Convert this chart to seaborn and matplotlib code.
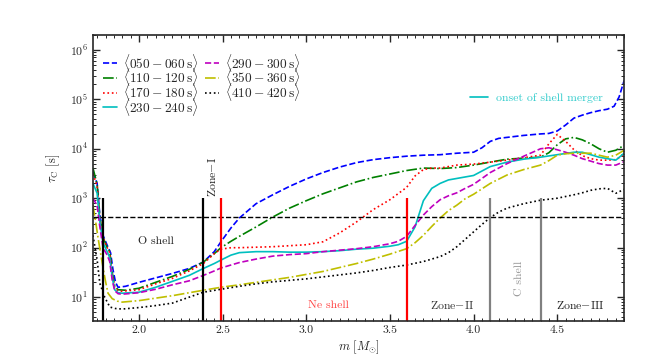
import numpy as np
import pandas as pd
import matplotlib
matplotlib.use("Agg")
import matplotlib.pyplot as plt
from matplotlib.lines import Line2D
import seaborn as sns

# ---------------- data ----------------
labels = [r'$\langle 050-060\,\mathrm{s}\rangle$', r'$\langle 110-120\,\mathrm{s}\rangle$',
          r'$\langle 170-180\,\mathrm{s}\rangle$', r'$\langle 230-240\,\mathrm{s}\rangle$',
          r'$\langle 290-300\,\mathrm{s}\rangle$', r'$\langle 350-360\,\mathrm{s}\rangle$',
          r'$\langle 410-420\,\mathrm{s}\rangle$']

m_050 = [1.725, 1.75, 1.765, 1.785, 1.81, 1.83, 1.845, 1.86, 1.875, 1.92, 2.0, 2.1, 2.2, 2.3, 2.385, 2.45, 2.49,
         2.55, 2.6, 2.7, 2.8, 2.9, 3.0, 3.1, 3.2, 3.3, 3.4, 3.5, 3.6, 3.7, 3.8, 3.9, 4.0, 4.05, 4.1, 4.15, 4.2,
         4.3, 4.4, 4.45, 4.5, 4.55, 4.6, 4.65, 4.7, 4.75, 4.8, 4.84, 4.87, 4.9]
lt_050 = [3.53, 3.30, 2.70, 2.25, 2.05, 1.90, 1.55, 1.30, 1.20, 1.22, 1.30, 1.39, 1.48, 1.58, 1.71, 1.92, 2.12,
          2.40, 2.60, 2.89, 3.07, 3.24, 3.39, 3.52, 3.63, 3.72, 3.78, 3.82, 3.85, 3.87, 3.88, 3.91, 3.93, 4.02,
          4.15, 4.21, 4.23, 4.27, 4.30, 4.31, 4.36, 4.48, 4.62, 4.68, 4.73, 4.77, 4.80, 4.86, 5.05, 5.38]

m_110 = [1.725, 1.75, 1.765, 1.785, 1.81, 1.825, 1.84, 1.855, 1.875, 1.92, 2.0, 2.1, 2.2, 2.3, 2.385, 2.45, 2.49,
         2.55, 2.6, 2.7, 2.8, 2.9, 3.0, 3.1, 3.2, 3.3, 3.4, 3.5, 3.6, 3.7, 3.8, 3.9, 4.0, 4.1, 4.2, 4.3, 4.4,
         4.45, 4.5, 4.55, 4.6, 4.65, 4.7, 4.75, 4.8, 4.85, 4.9]
lt_110 = [3.61, 3.28, 2.65, 2.21, 2.00, 1.93, 1.50, 1.22, 1.15, 1.14, 1.18, 1.30, 1.42, 1.56, 1.71, 1.88, 2.00,
          2.13, 2.23, 2.42, 2.62, 2.80, 2.95, 3.09, 3.21, 3.33, 3.42, 3.49, 3.56, 3.61, 3.60, 3.62, 3.67, 3.73,
          3.79, 3.81, 3.83, 3.92, 4.08, 4.20, 4.23, 4.18, 4.10, 4.00, 3.93, 3.97, 4.07]

m_170 = [1.725, 1.75, 1.765, 1.785, 1.81, 1.825, 1.84, 1.855, 1.875, 1.9, 2.0, 2.1, 2.2, 2.3, 2.385, 2.45, 2.49,
         2.55, 2.6, 2.7, 2.8, 2.9, 3.0, 3.1, 3.2, 3.3, 3.4, 3.5, 3.6, 3.65, 3.7, 3.75, 3.8, 3.9, 4.0, 4.1, 4.2,
         4.3, 4.4, 4.45, 4.5, 4.55, 4.6, 4.65, 4.7, 4.75, 4.8, 4.85, 4.9]
lt_170 = [3.49, 3.25, 2.60, 2.20, 2.00, 1.90, 1.45, 1.20, 1.13, 1.12, 1.15, 1.27, 1.38, 1.53, 1.68, 1.88, 1.97,
          2.00, 2.00, 2.01, 2.02, 2.04, 2.06, 2.12, 2.30, 2.52, 2.77, 2.97, 3.22, 3.45, 3.58, 3.61, 3.61, 3.67,
          3.69, 3.73, 3.77, 3.82, 3.87, 4.10, 4.29, 4.15, 3.98, 3.86, 3.80, 3.77, 3.77, 3.78, 3.88]

m_230 = [1.725, 1.75, 1.765, 1.785, 1.81, 1.825, 1.84, 1.855, 1.875, 1.9, 2.0, 2.1, 2.2, 2.3, 2.385, 2.45, 2.49,
         2.55, 2.6, 2.7, 2.8, 2.9, 3.0, 3.1, 3.2, 3.3, 3.4, 3.5, 3.55, 3.6, 3.65, 3.7, 3.75, 3.8, 3.85, 3.9,
         4.0, 4.1, 4.2, 4.3, 4.4, 4.5, 4.6, 4.65, 4.7, 4.75, 4.8, 4.85, 4.9]
lt_230 = [3.30, 3.10, 2.55, 2.10, 1.92, 1.80, 1.40, 1.15, 1.09, 1.08, 1.10, 1.20, 1.32, 1.44, 1.58, 1.68, 1.75,
          1.85, 1.90, 1.92, 1.92, 1.91, 1.91, 1.92, 1.94, 1.97, 1.99, 2.03, 2.06, 2.13, 2.42, 2.95, 3.20, 3.30,
          3.37, 3.40, 3.46, 3.64, 3.73, 3.79, 3.83, 3.88, 3.93, 3.93, 3.88, 3.83, 3.80, 3.77, 3.91]

m_290 = [1.725, 1.75, 1.765, 1.785, 1.81, 1.825, 1.84, 1.855, 1.875, 1.9, 2.0, 2.1, 2.2, 2.3, 2.385, 2.45, 2.49,
         2.6, 2.7, 2.8, 2.9, 3.0, 3.1, 3.2, 3.3, 3.4, 3.5, 3.55, 3.6, 3.65, 3.7, 3.75, 3.8, 3.85, 3.9, 3.95,
         4.0, 4.1, 4.2, 4.3, 4.4, 4.45, 4.5, 4.55, 4.6, 4.65, 4.7, 4.75, 4.8, 4.85, 4.9]
lt_290 = [3.00, 2.85, 2.45, 2.00, 1.85, 1.72, 1.35, 1.13, 1.07, 1.06, 1.09, 1.16, 1.25, 1.33, 1.44, 1.53, 1.59,
          1.70, 1.77, 1.83, 1.86, 1.88, 1.92, 1.95, 1.98, 2.02, 2.08, 2.13, 2.23, 2.45, 2.66, 2.83, 2.97, 3.05,
          3.11, 3.20, 3.28, 3.52, 3.70, 3.85, 4.00, 4.02, 3.98, 3.93, 3.87, 3.80, 3.75, 3.70, 3.67, 3.67, 3.74]

m_350 = [1.725, 1.74, 1.755, 1.77, 1.785, 1.80, 1.815, 1.84, 1.87, 1.9, 2.0, 2.1, 2.2, 2.3, 2.385, 2.49, 2.6,
         2.7, 2.8, 2.9, 3.0, 3.1, 3.2, 3.3, 3.4, 3.5, 3.6, 3.65, 3.7, 3.75, 3.8, 3.85, 3.9, 3.95, 4.0, 4.1,
         4.2, 4.3, 4.4, 4.45, 4.5, 4.55, 4.6, 4.65, 4.7, 4.75, 4.8, 4.85, 4.9]
lt_350 = [2.86, 2.55, 2.21, 1.90, 1.60, 1.32, 1.08, 0.97, 0.92, 0.90, 0.93, 0.98, 1.03, 1.09, 1.14, 1.20, 1.25,
          1.30, 1.35, 1.40, 1.46, 1.52, 1.60, 1.68, 1.77, 1.87, 1.98, 2.10, 2.25, 2.43, 2.60, 2.75, 2.86, 2.99,
          3.08, 3.30, 3.47, 3.58, 3.67, 3.76, 3.87, 3.90, 3.91, 3.91, 3.91, 3.87, 3.83, 3.87, 3.97]

m_410 = [1.725, 1.75, 1.766, 1.795, 1.826, 1.86, 1.9, 2.0, 2.1, 2.2, 2.3, 2.385, 2.49, 2.6, 2.7, 2.8, 2.9, 3.0,
         3.1, 3.2, 3.3, 3.4, 3.5, 3.6, 3.7, 3.8, 3.85, 3.9, 3.95, 4.0, 4.05, 4.1, 4.15, 4.2, 4.3, 4.4, 4.5,
         4.6, 4.65, 4.7, 4.75, 4.8, 4.85, 4.9]
lt_410 = [2.25, 1.75, 1.28, 1.00, 0.80, 0.77, 0.76, 0.79, 0.83, 0.88, 1.00, 1.10, 1.16, 1.22, 1.27, 1.31, 1.34,
          1.37, 1.41, 1.45, 1.49, 1.54, 1.60, 1.65, 1.72, 1.82, 1.90, 2.02, 2.17, 2.32, 2.47, 2.61, 2.72, 2.80,
          2.89, 2.96, 3.00, 3.07, 3.11, 3.16, 3.19, 3.20, 3.10, 3.18]

m_series = [m_050, m_110, m_170, m_230, m_290, m_350, m_410]
logtau_series = [lt_050, lt_110, lt_170, lt_230, lt_290, lt_350, lt_410]

colors = ['b', 'g', 'r', 'c', 'm', 'y', 'k']
styles = ['--', '-.', ':', '-', '--', '-.', ':']

# reference lines / regions
tau_threshold = 420.0
zone_lines_m = [1.785, 2.385, 2.49, 3.6, 4.1, 4.4]
zone_lines_color = ['k', 'k', 'r', 'r', 'grey', 'grey']

# ---------------- style ----------------
sns.set_style("ticks")
plt.rcParams['font.family'] = ['serif']
plt.rcParams['font.serif'] = ['cmr10', 'DejaVu Serif']
plt.rcParams['mathtext.fontset'] = 'cm'
plt.rcParams['axes.formatter.use_mathtext'] = True
plt.rcParams['axes.unicode_minus'] = False
plt.rcParams['font.size'] = 8.5

fig = plt.figure(figsize=(6.64, 3.58), dpi=100)
ax = fig.add_axes([0.140, 0.1034, 0.800, 0.799])

handles = []
for m, lt, c, ls, lab in zip(m_series, logtau_series, colors, styles, labels):
    df = pd.DataFrame({'m': m, 'tau': np.power(10.0, lt)})
    sns.lineplot(data=df, x='m', y='tau', ax=ax, color=c, linestyle=ls, lw=1.2, sort=True)
    handles.append(Line2D([], [], color=c, linestyle=ls, lw=1.2, label=lab))

ax.set_yscale('log')
ax.set_xlim(1.725, 4.90)
ax.set_ylim(3.3, 2.0e6)

ax.axhline(tau_threshold, color='k', ls='--', lw=1.0)
for xm, c in zip(zone_lines_m, zone_lines_color):
    ax.plot([xm, xm], [3.3, 1.0e3], color=c, lw=1.6, solid_capstyle='butt')

ax.text(2.10, 132, 'O shell', ha='center', va='center', fontsize=8.5, color='#222222')
ax.text(2.437, 1.05e3, r'Zone$-$I', rotation=90, ha='center', va='bottom', fontsize=8.5, color='#222222')
ax.text(3.13, 6.9, 'Ne shell', ha='center', va='center', fontsize=8.5, color='#ff4444')
ax.text(3.87, 6.9, r'Zone$-$II', ha='center', va='center', fontsize=8.5, color='#333333')
ax.text(4.27, 24, 'C shell', rotation=90, ha='center', va='center', fontsize=8.5, color='#999999')
ax.text(4.64, 6.9, r'Zone$-$III', ha='center', va='center', fontsize=8.5, color='#222222')

ax.set_xlabel(r'$m\ [M_{\odot}]$', fontsize=9, labelpad=2)
ax.set_ylabel(r'$\tau_{\rm C}$ [s]', fontsize=9)
ax.yaxis.set_label_coords(-0.058, 0.535)

ax.xaxis.set_major_locator(matplotlib.ticker.MultipleLocator(0.5))
ax.xaxis.set_minor_locator(matplotlib.ticker.MultipleLocator(0.05))
ax.xaxis.set_major_formatter(matplotlib.ticker.FormatStrFormatter('%.1f'))
ax.tick_params(which='both', direction='in', top=True, right=True, labelsize=8.5)
ax.tick_params(which='major', length=5, width=1.0)
ax.tick_params(which='minor', length=2.5, width=0.7)
for s in ax.spines.values():
    s.set_linewidth(1.2)

leg1 = ax.legend(handles=handles, loc='upper left', bbox_to_anchor=(0.009, 0.9605), ncol=2,
                 frameon=False, fontsize=9.6, handlelength=1.05, handletextpad=0.45,
                 labelspacing=-0.55, columnspacing=0.45, borderaxespad=0.0)
ax.add_artist(leg1)
leg2 = ax.legend(handles=[Line2D([], [], color='c', lw=1.2)], labels=['onset of shell merger'],
                 loc='center left', bbox_to_anchor=(0.689, 0.78), frameon=False, fontsize=8.5,
                 handlelength=1.6, handletextpad=0.6, labelcolor='#33cccc')

fig.savefig('out.png', dpi=100)
